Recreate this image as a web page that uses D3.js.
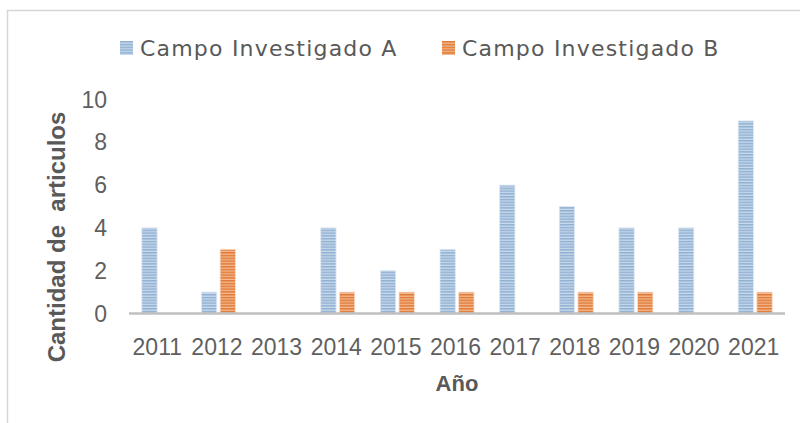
<!DOCTYPE html>
<html>
<head>
<meta charset="utf-8">
<script src="https://cdn.jsdelivr.net/npm/d3@7"></script>
<style>
  html, body { margin: 0; padding: 0; background: #fff; }
  svg { display: block; }
  .tick-label { font-family: "Liberation Sans", Arial, sans-serif; font-size: 23px; fill: #5f5f5f; }
  .legend-label { font-family: "DejaVu Sans", sans-serif; font-size: 22px; letter-spacing: 1.2px; fill: #595959; }
  .axis-title { font-family: "Liberation Sans", Arial, sans-serif; font-weight: bold; fill: #595959; }
</style>
</head>
<body>
<div id="chart"></div>
<script>
// Data
const years   = ["2011", "2012", "2013", "2014", "2015", "2016", "2017", "2018", "2019", "2020", "2021"];
const seriesA = [4, 1, 0, 4, 2, 3, 6, 5, 4, 4, 9];
const seriesB = [0, 3, 0, 1, 1, 1, 0, 1, 1, 0, 1];
const seriesNames = ["Campo Investigado A", "Campo Investigado B"];
const yTicks = [0, 2, 4, 6, 8, 10];

const fullW = 800, fullH = 423;

const svg = d3.select("#chart")
  .append("svg")
  .attr("width", fullW)
  .attr("height", fullH);

// Stripe patterns
const defs = svg.append("defs");
const patterns = [
  { id: "stripeA", dark: "#8fb0d2", light: "#c9daec" },
  { id: "stripeB", dark: "#e07a38", light: "#f3b98f" }
];
patterns.forEach(p => {
  const pat = defs.append("pattern")
    .attr("id", p.id)
    .attr("patternUnits", "userSpaceOnUse")
    .attr("width", 4)
    .attr("height", 2.8);
  pat.append("rect").attr("width", 4).attr("height", 2.8).attr("fill", p.light);
  pat.append("rect").attr("width", 4).attr("height", 1.5).attr("fill", p.dark);
});
const fills   = ["url(#stripeA)", "url(#stripeB)"];
const borders = ["#dfe8f3", "#f8dccb"];

// Outer frame
svg.append("rect")
  .attr("x", 7.5).attr("y", 10.5)
  .attr("width", 820).attr("height", 440)
  .attr("fill", "none")
  .attr("stroke", "#d6d6d6")
  .attr("stroke-width", 1.5);

// Scales
const x0 = d3.scaleBand()
  .domain(years)
  .range([129, 785])
  .paddingInner(0.43)
  .paddingOuter(0.215);

const x1 = d3.scaleBand()
  .domain([0, 1])
  .range([0, x0.bandwidth()])
  .paddingInner(0.18);

const y = d3.scaleLinear().domain([0, 10]).range([313.5, 99.5]);

// Bars
const rows = years.map((yr, i) => ({ year: yr, values: [seriesA[i], seriesB[i]] }));

const groups = svg.selectAll(".year")
  .data(rows)
  .enter().append("g")
  .attr("class", "year")
  .attr("transform", d => `translate(${x0(d.year)},0)`);

groups.selectAll("rect")
  .data(d => d.values.map((v, k) => ({ k, v })).filter(e => e.v > 0))
  .enter().append("rect")
  .attr("x", d => x1(d.k))
  .attr("width", x1.bandwidth())
  .attr("y", d => y(d.v))
  .attr("height", d => y(0) - y(d.v))
  .attr("fill", d => fills[d.k])
  .attr("stroke", d => borders[d.k])
  .attr("stroke-width", 0.8);

// Baseline
svg.append("line")
  .attr("x1", 129).attr("x2", 785)
  .attr("y1", y(0)).attr("y2", y(0))
  .attr("stroke", "#bfbfbf")
  .attr("stroke-width", 2.5);

// Y tick labels
svg.selectAll(".ytick")
  .data(yTicks)
  .enter().append("text")
  .attr("class", "tick-label")
  .attr("text-anchor", "end")
  .attr("x", 107)
  .attr("y", d => y(d) + 8)
  .text(d => d);

// X tick labels
svg.selectAll(".xtick")
  .data(years)
  .enter().append("text")
  .attr("class", "tick-label")
  .attr("text-anchor", "middle")
  .attr("x", d => x0(d) + x0.bandwidth() / 2 - 1.5)
  .attr("y", 355)
  .text(d => d);

// Axis titles
svg.append("text")
  .attr("class", "axis-title")
  .attr("text-anchor", "middle")
  .attr("x", 457)
  .attr("y", 391)
  .style("font-size", "22px")
  .text("Año");

svg.append("text")
  .attr("class", "axis-title")
  .attr("text-anchor", "middle")
  .attr("transform", "translate(65,237) rotate(-90)")
  .style("font-size", "24px")
  .style("white-space", "pre")
  .text("Cantidad de  articulos");

// Legend
const legendX = [120, 442];
const legend = svg.selectAll(".legend")
  .data(seriesNames)
  .enter().append("g")
  .attr("class", "legend")
  .attr("transform", (d, i) => `translate(${legendX[i]},41)`);

legend.append("rect")
  .attr("width", 13).attr("height", 14)
  .attr("fill", (d, i) => fills[i]);

legend.append("text")
  .attr("class", "legend-label")
  .attr("x", 20)
  .attr("y", 15)
  .text(d => d);
</script>
</body>
</html>
